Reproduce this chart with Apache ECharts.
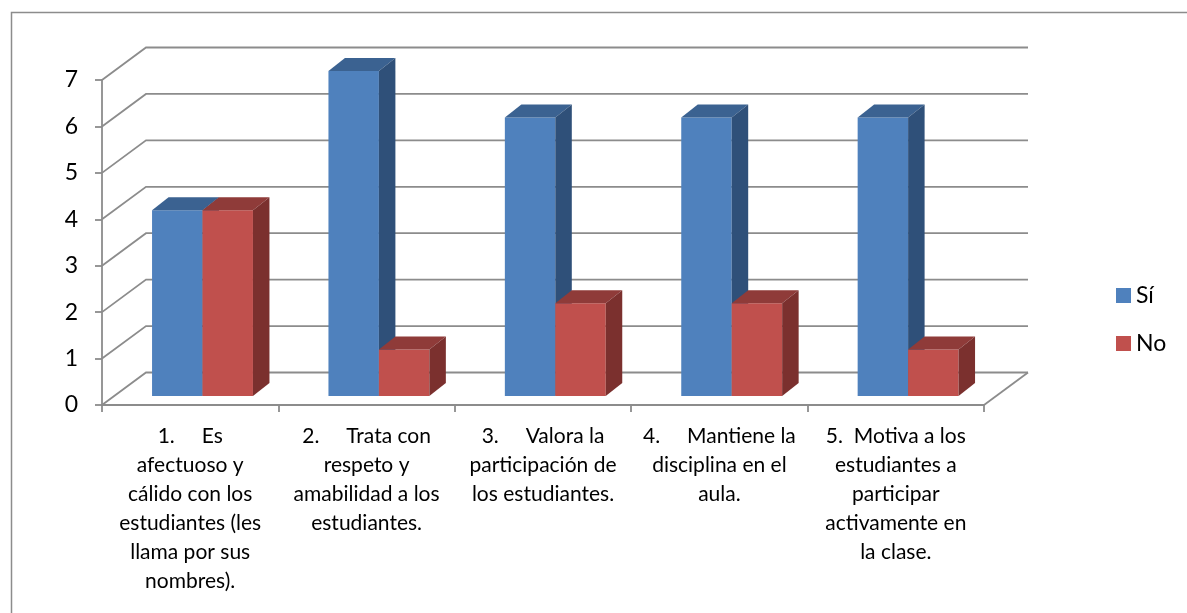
<!DOCTYPE html>
<html>
<head>
<meta charset="utf-8" />
<title>Encuesta estudiantes</title>
<script src="https://cdn.jsdelivr.net/npm/echarts@6/dist/echarts.min.js"></script>
<style>
  html, body { margin: 0; padding: 0; background: #fff; }
  #chart { width: 1187px; height: 613px; }
</style>
</head>
<body>
<div id="chart"></div>
<script type="text/javascript">
// categorias (saltos de linea como en el original)
var categories = [
	'1.     Es\nafectuoso y\ncálido con los\nestudiantes (les\nllama por sus\nnombres).',
	'2.     Trata con\nrespeto y\namabilidad a los\nestudiantes.',
	'3.     Valora la\nparticipación de\nlos estudiantes.',
	'4.     Mantiene la\ndisciplina en el\naula.',
	'5.  Motiva a los\nestudiantes a\nparticipar\nactivamente en\nla clase.'
];
var siValues = [4, 7, 6, 6, 6];
var noValues = [4, 1, 2, 2, 1];
var yTicks = [0, 1, 2, 3, 4, 5, 6, 7];

var gridColor = '#8c8c8c';
// profundidad de la pared del fondo
var WALL_DX = 44, WALL_DY = -32.5;
// plano frontal de las barras y profundidad de cada barra
var FRONT_DX = 12.3, FRONT_DY = -9;
var BAR_DX = 16.5, BAR_DY = -13;

function wallRender(params, api) {
	var cs = params.coordSys;
	var v = api.value(1);
	var y = api.coord([0, v])[1];
	var left = cs.x, right = cs.x + cs.width;
	var children = [{
		type: 'polyline',
		shape: { points: [[left, y], [left + WALL_DX, y + WALL_DY], [right + WALL_DX, y + WALL_DY]] },
		style: { stroke: gridColor, lineWidth: 1.8, fill: null }
	}];
	if (v === 0) {
		children.push({
			type: 'line',
			shape: { x1: right, y1: y, x2: right + WALL_DX, y2: y + WALL_DY },
			style: { stroke: gridColor, lineWidth: 1.8 }
		});
	}
	return { type: 'group', children: children };
}

function barRender(idx, front, top, side) {
	return function (params, api) {
		var cat = api.value(0), val = api.value(1);
		var p = api.coord([cat, val]);
		var base = api.coord([cat, 0]);
		var band = api.size([1, 0])[0];
		var w = band * 0.286;
		var x0 = p[0] - w + idx * w + FRONT_DX;
		var x1 = x0 + w;
		var yT = p[1] + FRONT_DY, yB = base[1] + FRONT_DY;
		return {
			type: 'group',
			children: [
				{ type: 'rect', shape: { x: x0, y: yT, width: w, height: yB - yT }, style: { fill: front } },
				{ type: 'polygon', shape: { points: [[x0, yT], [x1, yT], [x1 + BAR_DX, yT + BAR_DY], [x0 + BAR_DX, yT + BAR_DY]] }, style: { fill: top } },
				{ type: 'polygon', shape: { points: [[x1, yT], [x1 + BAR_DX, yT + BAR_DY], [x1 + BAR_DX, yB + BAR_DY], [x1, yB]] }, style: { fill: side } }
			]
		};
	};
}

var myChart = echarts.init(document.getElementById('chart'));
var option = {
	backgroundColor: '#fff',
	animation: false,
	textStyle: { fontFamily: 'Lato' },
	graphic: [{
		type: 'rect',
		left: 9, top: 10,
		shape: { width: 1200, height: 620 },
		style: { fill: null, stroke: gridColor, lineWidth: 1.5 },
		silent: true
	}],
	legend: {
		orient: 'vertical',
		left: 1111,
		top: 279,
		itemWidth: 15,
		itemHeight: 15,
		itemGap: 25,
		icon: 'rect',
		textStyle: { fontSize: 23, color: '#000', lineHeight: 23, padding: [0, 0, 0, 0] },
		data: ['Sí', 'No']
	},
	grid: { left: 102, right: 203, top: 80, bottom: 208 },
	xAxis: {
		type: 'category',
		data: categories,
		axisLine: { show: true, lineStyle: { color: gridColor, width: 1.8 } },
		axisTick: { show: true, length: 7, lineStyle: { color: gridColor, width: 1.8 } },
		axisLabel: {
			interval: 0,
			margin: 17,
			fontSize: 21,
			lineHeight: 29,
			color: '#000',
			align: 'center'
		},
		splitLine: { show: false }
	},
	yAxis: {
		type: 'value',
		min: 0,
		max: 7,
		interval: 1,
		axisLine: { show: true, lineStyle: { color: gridColor, width: 1.8 } },
		axisTick: { show: true, length: 7, lineStyle: { color: gridColor, width: 1.8 } },
		axisLabel: { fontSize: 23, color: '#000', margin: 24 },
		splitLine: { show: false }
	},
	series: [{
		name: 'walls',
		type: 'custom',
		renderItem: wallRender,
		data: yTicks.map(function (v) { return [0, v]; }),
		clip: false,
		silent: true,
		z: 1
	}, {
		name: 'Sí',
		type: 'custom',
		renderItem: barRender(0, '#4F81BD', '#3B6291', '#2F5079'),
		itemStyle: { color: '#4F81BD' },
		data: siValues.map(function (v, i) { return [i, v]; }),
		clip: false,
		z: 2
	}, {
		name: 'No',
		type: 'custom',
		renderItem: barRender(1, '#C0504D', '#8F3B39', '#7B302E'),
		itemStyle: { color: '#C0504D' },
		data: noValues.map(function (v, i) { return [i, v]; }),
		clip: false,
		z: 3
	}]
};
myChart.setOption(option);
</script>
</body>
</html>
